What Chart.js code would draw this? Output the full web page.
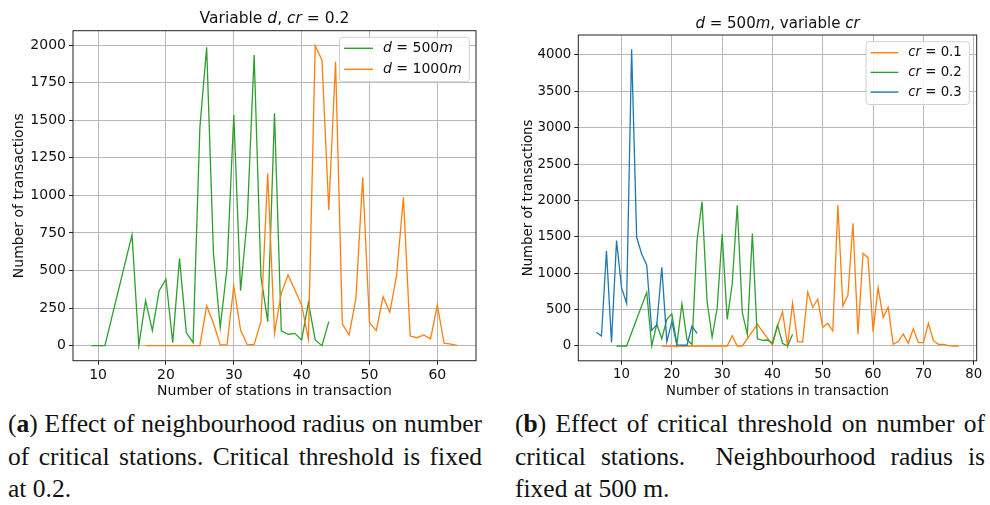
<!DOCTYPE html>
<html>
<head>
<meta charset="utf-8">
<script src="https://cdn.jsdelivr.net/npm/chart.js@4.4.1/dist/chart.umd.min.js"></script>
<style>
  body { margin: 0; background: #fff; width: 990px; height: 505px; overflow: hidden; position: relative; }
  canvas { position: absolute; top: 0; }
  #left { left: 0; }
  #right { left: 495px; }
  .cap { position: absolute; font-family: "Liberation Serif", serif; font-size: 25.5px; color: #111; }
  .cap div { height: 32.5px; line-height: 32.5px; white-space: nowrap; }
  .cap div.j { text-align: justify; text-align-last: justify; }
</style>
</head>
<body>
<canvas id="left" width="495" height="400"></canvas>
<canvas id="right" width="495" height="400"></canvas>

<div class="cap" style="left:8px; top:408px; width:474px;">
  <div class="j">(<b>a</b>) Effect of neighbourhood radius on number</div>
  <div class="j">of critical stations. Critical threshold is fixed</div>
  <div>at 0.2.</div>
</div>
<div class="cap" style="left:515px; top:408px; width:470px;">
  <div class="j">(<b>b</b>) Effect of critical threshold on number of</div>
  <div class="j">critical stations.&nbsp; Neighbourhood radius is</div>
  <div>fixed at 500 m.</div>
</div>

<script>
// stations per transaction -> number of transactions
// d = 500m (cr = 0.2), same run is cr = 0.2 in the right plot
const d500X = [9, 10, 11, 15, 16, 17, 18, 19, 20, 21, 22, 23, 24, 25, 26, 27, 28, 29, 30, 31, 32, 33, 34, 35, 36, 37, 38, 39, 40, 41, 42, 43, 44];
const d500Y = [0, 0, 0, 737, 0, 300, 100, 366, 442, 20, 581, 87, 20, 1450, 1985, 615, 122, 515, 1535, 366, 855, 1934, 460, 160, 1546, 98, 76, 82, 38, 287, 38, 0, 160];

const d1000X = [17, 18, 19, 20, 21, 22, 23, 24, 25, 26, 27, 28, 29, 30, 31, 32, 33, 34, 35, 36, 37, 38, 39, 40, 41, 42, 43, 44, 45, 46, 47, 48, 49, 50, 51, 52, 53, 54, 55, 56, 57, 58, 59, 60, 61, 62, 63];
const d1000Y = [0, 0, 0, 0, 0, 0, 0, 0, 0, 264, 149, 5, 5, 397, 104, 5, 8, 160, 1147, 82, 348, 470, 370, 270, 42, 1996, 1900, 903, 1890, 144, 71, 315, 1120, 153, 100, 326, 222, 470, 987, 64, 53, 71, 45, 270, 16, 10, 0];

const cr01X = [18, 20, 22, 24, 26, 28, 30, 31, 32, 33, 34, 37, 40, 41, 42, 43, 44, 45, 46, 47, 48, 49, 50, 51, 52, 53, 54, 55, 56, 57, 58, 59, 60, 61, 62, 63, 64, 65, 66, 67, 68, 69, 70, 71, 72, 73, 74, 75, 76, 77];
const cr01Y = [0, 0, 0, 0, 0, 0, 0, 0, 142, 0, 0, 298, 14, 275, 471, 5, 587, 60, 55, 742, 532, 642, 257, 312, 206, 1938, 550, 701, 1686, 161, 1274, 1214, 197, 802, 394, 532, 23, 60, 165, 37, 238, 46, 46, 312, 73, 23, 23, 5, 0, 0];

const cr02X = d500X;
const cr02Y = d500Y;

const cr03X = [5, 6, 7, 8, 9, 10, 11, 12, 13, 14, 15, 16, 17, 18, 19, 20, 21, 22, 23, 24, 25];
const cr03Y = [190, 137, 1310, 50, 1448, 802, 587, 4078, 1494, 1264, 1113, 215, 289, 1080, 60, 334, 14, 10, 10, 275, 174];

const leftXTicks = [10, 20, 30, 40, 50, 60];
const leftYTicks = [0, 250, 500, 750, 1000, 1250, 1500, 1750, 2000];
const rightXTicks = [10, 20, 30, 40, 50, 60, 70, 80];
const rightYTicks = [0, 500, 1000, 1500, 2000, 2500, 3000, 3500, 4000];

const GREEN = '#2ca02c', ORANGE = '#ff7f0e', BLUE = '#1f77b4';
const FONT = '"DejaVu Sans", sans-serif';

function pts(xs, ys) { return xs.map((x, i) => ({ x: x, y: ys[i] })); }

// text made of plain and italic pieces, like matplotlib mathtext
function richWidth(ctx, parts, size) {
  let w = 0;
  parts.forEach(p => { ctx.font = (p[1] ? 'oblique ' : '') + size + 'px ' + FONT; w += ctx.measureText(p[0]).width; });
  return w;
}
function drawRich(ctx, parts, x, y, size, align) {
  let cx = align === 'center' ? x - richWidth(ctx, parts, size) / 2 : x;
  ctx.textBaseline = 'middle';
  ctx.textAlign = 'left';
  parts.forEach(p => {
    ctx.font = (p[1] ? 'oblique ' : '') + size + 'px ' + FONT;
    ctx.fillText(p[0], cx, y);
    cx += ctx.measureText(p[0]).width;
  });
}

const framePlugin = {
  id: 'frame',
  afterDraw(chart, args, o) {
    const ctx = chart.ctx, a = chart.chartArea;
    ctx.save();
    ctx.strokeStyle = '#222';
    ctx.lineWidth = 1;
    ctx.strokeRect(a.left, a.top, a.right - a.left, a.bottom - a.top);
    ctx.fillStyle = '#111';
    drawRich(ctx, o.title, (a.left + a.right) / 2, a.top + o.titleDy, o.titleSize, 'center');

    // legend box
    const items = chart.data.datasets.slice().sort((p, q) => p.legendRank - q.legendRank);
    let tw = 0;
    items.forEach(d => { tw = Math.max(tw, richWidth(ctx, d.rich, o.fontSize)); });
    const w = 5 + o.lineLen + 10 + tw + 7;
    const h = 23.4 + (items.length - 1) * o.rowH;
    const x0 = a.right - o.legendDx - w, y0 = a.top + o.legendDy;
    ctx.beginPath();
    ctx.roundRect(x0, y0, w, h, 3);
    ctx.fillStyle = 'rgba(255,255,255,0.85)';
    ctx.fill();
    ctx.strokeStyle = '#d0d0d0';
    ctx.stroke();
    items.forEach((d, i) => {
      const y = y0 + 11 + i * o.rowH;
      ctx.beginPath();
      ctx.moveTo(x0 + 4.5, y);
      ctx.lineTo(x0 + 4.5 + o.lineLen, y);
      ctx.strokeStyle = d.borderColor;
      ctx.lineWidth = 1.4;
      ctx.stroke();
      ctx.fillStyle = '#111';
      drawRich(ctx, d.rich, x0 + 4.5 + o.lineLen + 10, y, o.fontSize, 'left');
    });
    ctx.restore();
  }
};

function lineSet(xs, ys, color, rich, order, legendRank) {
  return { data: pts(xs, ys), borderColor: color, backgroundColor: color, borderWidth: 1.3,
           pointRadius: 0, tension: 0, fill: false, order: order, rich: rich, legendRank: legendRank };
}

function makeChart(id, cfg) {
  return new Chart(document.getElementById(id), {
    type: 'line',
    data: { datasets: cfg.datasets },
    options: {
      responsive: false,
      animation: false,
      devicePixelRatio: 1,
      layout: { padding: { top: cfg.top, right: cfg.right, left: 0, bottom: 0 } },
      plugins: {
        legend: { display: false },
        tooltip: { enabled: false },
        frame: cfg.frame
      },
      scales: {
        x: {
          type: 'linear', min: cfg.xMin, max: cfg.xMax,
          afterBuildTicks: s => { s.ticks = cfg.xTicks.map(v => ({ value: v })); },
          afterFit: s => { s.height = cfg.xAxisH; },
          grid: { color: '#b8b8b8', lineWidth: 1, tickLength: 4, tickColor: '#222' },
          border: { display: false },
          ticks: { color: '#111', font: { family: FONT, size: cfg.fontSize }, padding: 2, maxRotation: 0,
                   callback: v => String(v) },
          title: { display: true, text: 'Number of stations in transaction', color: '#111',
                   font: { family: FONT, size: cfg.fontSize }, padding: { top: 0, bottom: cfg.xTitlePad } }
        },
        y: {
          type: 'linear', min: cfg.yMin, max: cfg.yMax,
          afterBuildTicks: s => { s.ticks = cfg.yTicks.map(v => ({ value: v })); },
          afterFit: s => { s.width = cfg.yAxisW; },
          grid: { color: '#b8b8b8', lineWidth: 1, tickLength: 4, tickColor: '#222' },
          border: { display: false },
          ticks: { color: '#111', font: { family: FONT, size: cfg.fontSize }, padding: 3,
                   callback: v => String(v) },
          title: { display: true, text: 'Number of transactions', color: '#111',
                   font: { family: FONT, size: cfg.fontSize }, padding: { top: cfg.yTitlePad, bottom: 0 } }
        }
      }
    },
    plugins: [framePlugin]
  });
}

makeChart('left', {
  datasets: [
    lineSet(d500X, d500Y, GREEN, [['d', 1], [' = 500', 0], ['m', 1]], 1, 0),
    lineSet(d1000X, d1000Y, ORANGE, [['d', 1], [' = 1000', 0], ['m', 1]], 0, 1)
  ],
  xMin: 6.3, xMax: 65.7, yMin: -100, yMax: 2096,
  xTicks: leftXTicks, yTicks: leftYTicks,
  top: 30.7, right: 19, xAxisH: 39.3, yAxisW: 73,
  fontSize: 14, xTitlePad: 0.5, yTitlePad: 11,
  frame: { title: [['Variable ', 0], ['d', 1], [', ', 0], ['cr', 1], [' = 0.2', 0]], titleDy: -12, titleSize: 15.5,
           fontSize: 14, lineLen: 29, rowH: 21, legendDx: 6.7, legendDy: 6.6 }
});

makeChart('right', {
  datasets: [
    lineSet(cr01X, cr01Y, ORANGE, [['cr', 1], [' = 0.1', 0]], 2, 0),
    lineSet(cr02X, cr02Y, GREEN, [['cr', 1], [' = 0.2', 0]], 1, 1),
    lineSet(cr03X, cr03Y, BLUE, [['cr', 1], [' = 0.3', 0]], 0, 2)
  ],
  xMin: 1.4, xMax: 80.6, yMin: -203.5, yMax: 4274,
  xTicks: rightXTicks, yTicks: rightYTicks,
  top: 35, right: 13.3, xAxisH: 39.2, yAxisW: 83.3,
  fontSize: 13.3, xTitlePad: 0.5, yTitlePad: 26,
  frame: { title: [['d', 1], [' = 500', 0], ['m', 1], [', variable ', 0], ['cr', 1]], titleDy: -10.5, titleSize: 15,
           fontSize: 13.3, lineLen: 27.7, rowH: 19.7, legendDx: 7.4, legendDy: 6.7 }
});
</script>
</body>
</html>
